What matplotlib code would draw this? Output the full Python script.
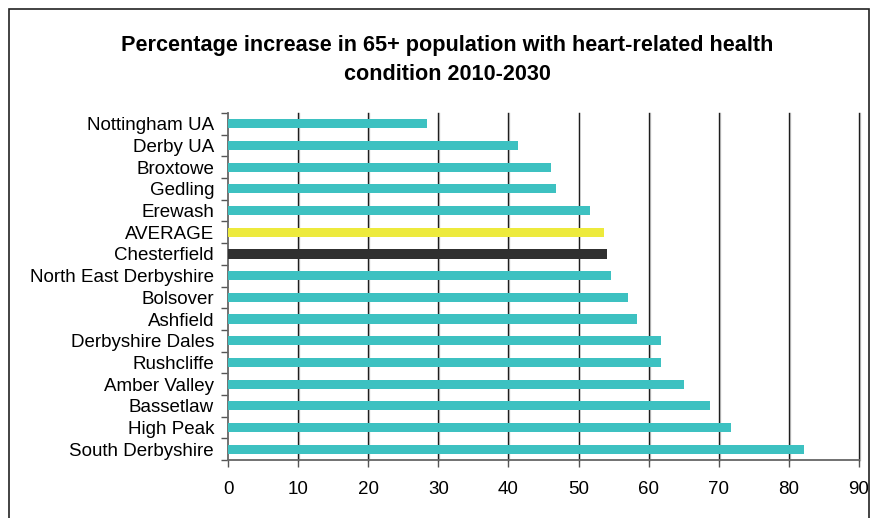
import matplotlib
matplotlib.use("Agg")
import matplotlib.pyplot as plt
from matplotlib.patches import Rectangle
from matplotlib.ticker import FixedLocator, NullFormatter

plt.rcParams['font.family'] = ['Liberation Sans', 'DejaVu Sans']

areas = ["Nottingham UA", "Derby UA", "Broxtowe", "Gedling", "Erewash",
         "AVERAGE", "Chesterfield", "North East Derbyshire", "Bolsover",
         "Ashfield", "Derbyshire Dales", "Rushcliffe", "Amber Valley",
         "Bassetlaw", "High Peak", "South Derbyshire"]
increase = [28.4, 41.4, 46.0, 46.8, 51.6, 53.7, 54.0, 54.6, 57.0,
            58.4, 61.8, 61.8, 65.0, 68.7, 71.8, 82.1]
x_ticks = [0, 10, 20, 30, 40, 50, 60, 70, 80, 90]
title = "Percentage increase in 65+ population with heart-related health\ncondition 2010-2030"

teal = "#3dc1c1"
highlight = {"AVERAGE": "#edea3c", "Chesterfield": "#303030"}
colors = [highlight.get(a, teal) for a in areas]

W, H = 877, 518
fig = plt.figure(figsize=(W / 100, H / 100), dpi=100)
fig.patch.set_facecolor("white")

# outer chart frame
fig.patches.append(Rectangle((9 / W, -0.05), (869 - 9) / W, (H - 9) / H + 0.05,
                             transform=fig.transFigure, fill=False,
                             edgecolor="#222222", linewidth=1.2))

left, right, top, bottom = 228, 859, 113, 460
ax = fig.add_axes([left / W, 1 - bottom / H, (right - left) / W, (bottom - top) / H])

pos = list(range(len(areas)))
ax.barh(pos, increase, height=0.42, color=colors, zorder=3)

ax.set_xlim(0, 90)
ax.set_ylim(len(areas) - 0.5, -0.5)

# vertical gridlines with a faint shadow
for v in x_ticks[1:]:
    ax.axvline(v + 0.13, color="#d0d0d0", linewidth=1.0, zorder=1, clip_on=False)
    ax.axvline(v, color="#1e1e1e", linewidth=1.0, zorder=2, clip_on=False)

ax.set_xticks(x_ticks)
ax.set_xticklabels([str(v) for v in x_ticks], fontsize=13.5)
ax.tick_params(axis="x", direction="out", length=5, width=1, color="#555555", pad=10)

ax.set_yticks(pos)
ax.set_yticklabels(areas, fontsize=13.5)
ax.tick_params(axis="y", which="major", length=0, pad=10)
ax.yaxis.set_minor_locator(FixedLocator([p - 0.5 for p in pos] + [len(areas) - 0.5]))
ax.yaxis.set_minor_formatter(NullFormatter())
ax.tick_params(axis="y", which="minor", direction="out", length=5, width=1, color="#555555")

for s in ["top", "right"]:
    ax.spines[s].set_visible(False)
for s in ["left", "bottom"]:
    ax.spines[s].set_color("#666666")
    ax.spines[s].set_linewidth(1.3)

fig.text(447 / W, 1 - 60 / H, title, ha="center", va="center", fontsize=15.6,
         fontweight="bold", linespacing=1.5)

fig.savefig("out.png", dpi=100, facecolor="white")
